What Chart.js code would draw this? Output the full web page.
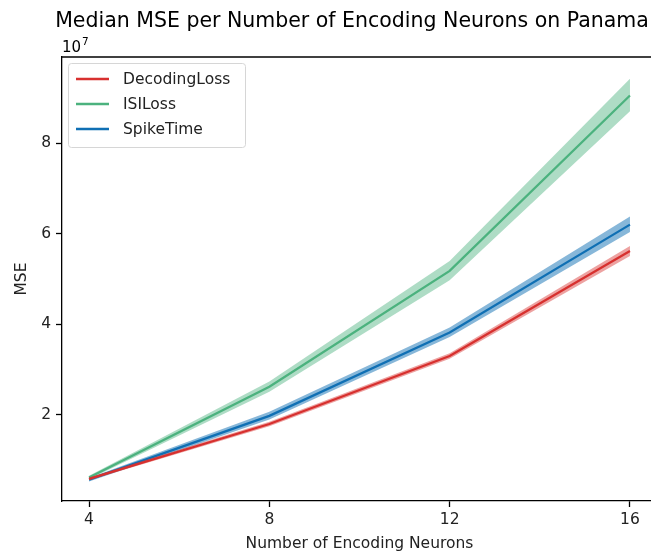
<!DOCTYPE html>
<html>
<head>
<meta charset="utf-8">
<script src="https://cdn.jsdelivr.net/npm/chart.js@4"></script>
<style>
  html, body { margin: 0; padding: 0; background: #fff; overflow: hidden; }
  #wrap { width: 657px; height: 556px; }
</style>
</head>
<body>
<div id="wrap"><canvas id="c" width="657" height="556"></canvas></div>
<script>
// Number of encoding neurons (x axis)
const neurons = [4, 8, 12, 16];
const xTicks = [4, 8, 12, 16];
const yTicks = [2e7, 4e7, 6e7, 8e7];

// Median MSE and its confidence band per loss
const decodingMedian = [0.59e7, 1.80e7, 3.30e7, 5.62e7];
const decodingLow    = [0.56e7, 1.75e7, 3.24e7, 5.51e7];
const decodingHigh   = [0.62e7, 1.85e7, 3.36e7, 5.73e7];

const isiMedian = [0.62e7, 2.62e7, 5.18e7, 9.05e7];
const isiLow    = [0.58e7, 2.51e7, 4.97e7, 8.70e7];
const isiHigh   = [0.66e7, 2.74e7, 5.40e7, 9.42e7];

const spikeMedian = [0.57e7, 1.98e7, 3.82e7, 6.20e7];
const spikeLow    = [0.53e7, 1.90e7, 3.72e7, 6.04e7];
const spikeHigh   = [0.61e7, 2.07e7, 3.93e7, 6.38e7];

const seriesNames = ['DecodingLoss', 'ISILoss', 'SpikeTime'];

const FONT = 'DejaVu Sans';
const colors = {
  DecodingLoss: { line: '#d8302f', band: 'rgba(216,48,47,0.45)' },
  ISILoss:      { line: '#4cb27e', band: 'rgba(76,178,126,0.45)' },
  SpikeTime:    { line: '#0f6fb4', band: 'rgba(15,111,180,0.5)' }
};

const pts = (ys) => neurons.map((x, i) => ({ x: x, y: ys[i] }));

function bandPair(name, low, high) {
  return [
    { label: name + ' low', data: pts(low), borderWidth: 0, pointRadius: 0, fill: false },
    { label: name + ' high', data: pts(high), borderWidth: 0, pointRadius: 0,
      fill: '-1', backgroundColor: colors[name].band }
  ];
}
function medianLine(name, med) {
  return { label: name, data: pts(med), borderColor: colors[name].line, borderWidth: 2.3,
           pointRadius: 0, fill: false, backgroundColor: colors[name].line };
}

const datasets = [
  ...bandPair('DecodingLoss', decodingLow, decodingHigh),
  medianLine('DecodingLoss', decodingMedian),
  ...bandPair('ISILoss', isiLow, isiHigh),
  medianLine('ISILoss', isiMedian),
  ...bandPair('SpikeTime', spikeLow, spikeHigh),
  medianLine('SpikeTime', spikeMedian)
];

// Frame, title, offset exponent and in-axes legend
const decor = {
  id: 'decor',
  afterDraw(chart) {
    const { ctx, chartArea: a } = chart;
    ctx.save();
    // top spine
    ctx.strokeStyle = '#000';
    ctx.lineWidth = 1.3;
    ctx.beginPath();
    ctx.moveTo(a.left, a.top);
    ctx.lineTo(a.right, a.top);
    ctx.stroke();

    // title
    ctx.fillStyle = '#000';
    ctx.font = '20.5px "' + FONT + '"';
    ctx.textAlign = 'center';
    ctx.textBaseline = 'alphabetic';
    ctx.fillText('Median MSE per Number of Encoding Neurons on Panama', 352, 27);

    // 1e7 offset label
    ctx.textAlign = 'left';
    ctx.font = '15px "' + FONT + '"';
    ctx.fillText('10', 62, 52);
    const w10 = ctx.measureText('10').width;
    ctx.font = '10.5px "' + FONT + '"';
    ctx.fillText('7', 62 + w10 + 1, 45);

    // legend
    const lx = 68, ly = 63, lw = 177, lh = 84;
    ctx.fillStyle = 'rgba(255,255,255,0.8)';
    ctx.strokeStyle = '#d6d6d6';
    ctx.lineWidth = 1;
    ctx.beginPath();
    ctx.roundRect(lx + 0.5, ly + 0.5, lw, lh, 3);
    ctx.fill();
    ctx.stroke();
    ctx.font = '15.5px "' + FONT + '"';
    ctx.textBaseline = 'middle';
    seriesNames.forEach((name, i) => {
      const y = ly + 16 + i * 25;
      ctx.strokeStyle = colors[name].line;
      ctx.lineWidth = 2.3;
      ctx.beginPath();
      ctx.moveTo(76, y);
      ctx.lineTo(109, y);
      ctx.stroke();
      ctx.fillStyle = '#222';
      ctx.fillText(name, 123, y + 1);
    });
    ctx.restore();
  }
};

new Chart(document.getElementById('c'), {
  type: 'line',
  data: { datasets },
  plugins: [decor],
  options: {
    responsive: false,
    animation: false,
    layout: { padding: { top: 57, left: 0, right: 0, bottom: 0 } },
    plugins: { legend: { display: false }, tooltip: { enabled: false }, title: { display: false } },
    elements: { line: { tension: 0 } },
    scales: {
      x: {
        type: 'linear',
        min: 3.4, max: 16.6,
        afterBuildTicks: (s) => { s.ticks = xTicks.map(v => ({ value: v })); },
        afterFit: (s) => { s.height = 55; },
        grid: { drawOnChartArea: false, drawTicks: true, tickLength: 6, color: '#000', tickWidth: 1.3 },
        border: { display: true, color: '#000', width: 1.3 },
        ticks: { color: '#222', font: { family: FONT, size: 15.5 }, padding: 4, maxRotation: 0 },
        title: { display: true, text: 'Number of Encoding Neurons', color: '#222',
                 font: { family: FONT, size: 15.5 }, padding: { top: 0, bottom: 3 } }
      },
      y: {
        type: 'linear',
        min: 0.1e7, max: 9.9e7,
        afterBuildTicks: (s) => { s.ticks = yTicks.map(v => ({ value: v })); },
        afterFit: (s) => { s.width = 62; },
        grid: { drawOnChartArea: false, drawTicks: true, tickLength: 6, color: '#000', tickWidth: 1.3 },
        border: { display: true, color: '#000', width: 1.3 },
        ticks: { color: '#222', font: { family: FONT, size: 15.5 }, padding: 5,
                 callback: (v) => String(v / 1e7) },
        title: { display: true, text: 'MSE', color: '#222',
                 font: { family: FONT, size: 15.5 }, padding: { top: 13, bottom: 0 } }
      }
    }
  }
});
</script>
</body>
</html>
